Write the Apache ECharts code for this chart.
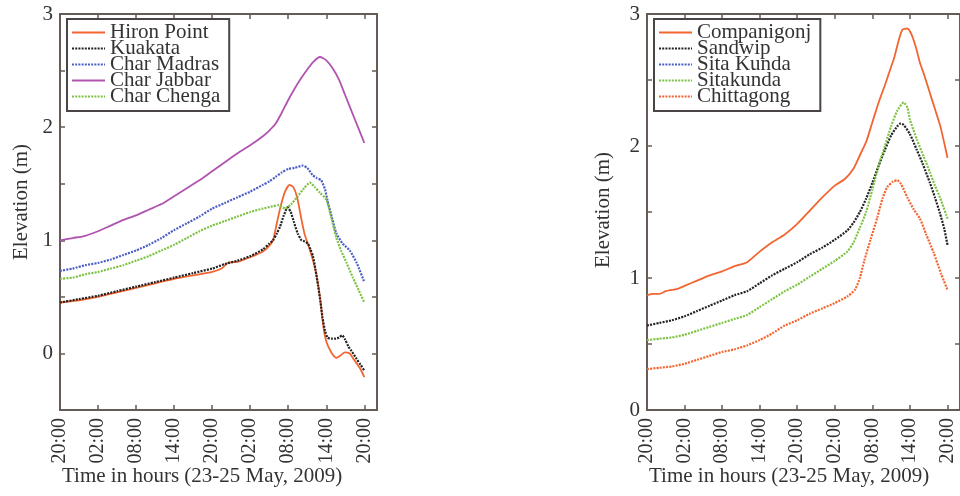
<!DOCTYPE html>
<html>
<head>
<meta charset="utf-8">
<title>Elevation</title>
<script src="https://cdn.jsdelivr.net/npm/echarts@6/dist/echarts.min.js"></script>
<style>
  html, body { margin: 0; padding: 0; background: #fff; }
  #main { width: 960px; height: 496px; }
</style>
</head>
<body>
<div id="main"></div>
<script>
// hours since 20:00 on 23 May, elevation in m
var tickLabels = ['20:00', '02:00', '08:00', '14:00', '20:00', '02:00', '08:00', '14:00', '20:00'];

var hironPoint = [[0,0.45],[3,0.47],[6,0.5],[9,0.54],[12,0.58],[15,0.62],[18,0.66],[21,0.69],[24,0.72],[25.5,0.75],[26.5,0.8],[28,0.81],[30,0.85],[32,0.9],[33,0.95],[33.6,1.0],[34.2,1.15],[34.8,1.3],[35.5,1.43],[36.2,1.49],[36.8,1.47],[37.4,1.38],[38.1,1.18],[38.6,1.05],[39.1,0.97],[39.6,0.88],[40.2,0.76],[40.6,0.65],[41,0.5],[41.4,0.3],[41.7,0.18],[42.1,0.09],[42.5,0.04],[43,-0.01],[43.6,-0.04],[44.2,-0.02],[44.9,0.01],[45.7,0],[46.3,-0.05],[46.8,-0.09],[47.4,-0.14],[48,-0.21]];
var kuakata = [[0,0.45],[3,0.48],[6,0.51],[9,0.55],[12,0.59],[15,0.63],[18,0.67],[21,0.71],[24,0.75],[26,0.79],[28,0.82],[30,0.86],[32,0.92],[33,0.97],[33.6,1.0],[34.2,1.06],[34.7,1.12],[35.3,1.22],[35.9,1.29],[36.4,1.25],[36.9,1.16],[37.5,1.06],[38.1,1.0],[38.6,0.99],[39.1,0.97],[39.5,0.92],[39.9,0.86],[40.3,0.74],[40.7,0.6],[41.1,0.45],[41.4,0.32],[41.8,0.2],[42.2,0.14],[42.8,0.13],[43.5,0.13],[44,0.14],[44.5,0.16],[45,0.12],[45.5,0.06],[46,0.02],[46.8,-0.05],[47.4,-0.1],[48,-0.15]];
var charMadras = [[0,0.73],[2,0.75],[4,0.78],[6,0.8],[8,0.83],[10,0.87],[12,0.91],[14,0.96],[16,1.02],[18,1.09],[20,1.15],[22,1.21],[24,1.28],[26,1.33],[28,1.38],[30,1.43],[32,1.49],[33,1.52],[34,1.56],[35,1.6],[36,1.63],[37,1.64],[38.3,1.66],[39,1.64],[39.8,1.58],[40.5,1.55],[41.2,1.53],[41.8,1.45],[42.2,1.35],[42.9,1.2],[43.6,1.06],[44.6,0.97],[45.7,0.91],[46.8,0.8],[48,0.63]];
var charJabbar = [[0,1.0],[2,1.02],[4,1.04],[6,1.08],[8,1.13],[10,1.18],[12,1.22],[14,1.27],[16,1.32],[18,1.39],[20,1.46],[22,1.53],[24,1.61],[26,1.69],[28,1.77],[30,1.84],[32,1.92],[33,1.97],[34,2.03],[35,2.13],[36,2.24],[37,2.34],[38,2.43],[39,2.51],[40,2.58],[41,2.62],[42,2.59],[43,2.52],[44,2.42],[45,2.28],[46,2.14],[47,2.0],[48,1.86]];
var charChenga = [[0,0.66],[2,0.67],[4,0.7],[6,0.72],[8,0.75],[10,0.78],[12,0.82],[14,0.86],[16,0.91],[18,0.96],[20,1.02],[22,1.08],[24,1.13],[26,1.17],[28,1.21],[30,1.25],[32,1.28],[33.5,1.3],[34.5,1.31],[35.5,1.28],[36.5,1.32],[37.5,1.39],[38.5,1.46],[39.4,1.51],[40.2,1.47],[41,1.42],[42,1.36],[42.8,1.2],[43.6,1.02],[44.4,0.9],[45.2,0.8],[46.2,0.67],[47.1,0.56],[48,0.45]];

var companigonj = [[0,0.87],[1,0.88],[2,0.88],[3,0.9],[4,0.91],[5,0.92],[6,0.94],[8,0.98],[10,1.02],[12,1.05],[14,1.09],[16,1.12],[18,1.2],[20,1.27],[22,1.33],[24,1.41],[26,1.51],[28,1.61],[30,1.7],[31.6,1.75],[33,1.83],[34,1.93],[35,2.03],[36,2.18],[37,2.33],[38,2.46],[39,2.6],[39.5,2.67],[40.2,2.8],[40.8,2.88],[41.6,2.89],[42.3,2.84],[43,2.74],[43.6,2.63],[44.2,2.55],[45.2,2.4],[46,2.28],[46.8,2.16],[47.5,2.02],[48,1.91]];
var sandwip = [[0,0.64],[2,0.66],[4,0.68],[6,0.71],[8,0.75],[10,0.79],[12,0.83],[14,0.87],[16,0.9],[18,0.96],[20,1.02],[22,1.07],[24,1.12],[26,1.18],[28,1.23],[30,1.29],[32,1.36],[33,1.42],[34,1.5],[35,1.6],[36,1.72],[37,1.85],[38,1.97],[39,2.08],[40,2.15],[40.5,2.17],[41,2.16],[42,2.09],[43.1,1.97],[44,1.87],[45.2,1.72],[46,1.61],[46.8,1.49],[47.5,1.37],[48,1.25]];
var sitaKunda = [];
var sitakunda = [[0,0.53],[2,0.54],[4,0.55],[6,0.57],[8,0.6],[10,0.63],[12,0.66],[14,0.69],[16,0.72],[18,0.78],[20,0.84],[22,0.9],[24,0.95],[26,1.01],[28,1.07],[30,1.13],[32,1.2],[33,1.27],[34,1.38],[35,1.5],[36,1.67],[37,1.85],[38,2.0],[39,2.15],[40,2.27],[41,2.33],[41.6,2.29],[42,2.2],[43.1,2.05],[44.2,1.92],[45.2,1.8],[46,1.7],[46.8,1.61],[48,1.45]];
var chittagong = [[0,0.31],[2,0.32],[4,0.33],[6,0.35],[8,0.38],[10,0.41],[12,0.44],[14,0.46],[16,0.49],[18,0.53],[20,0.58],[22,0.64],[24,0.68],[26,0.73],[28,0.77],[30,0.81],[32,0.86],[33.2,0.91],[34,1.0],[34.7,1.13],[35.7,1.29],[36.8,1.46],[37.6,1.6],[38.4,1.69],[39.3,1.73],[40,1.74],[40.6,1.71],[41.6,1.61],[42.6,1.52],[43.6,1.45],[44.6,1.33],[45.8,1.19],[47,1.03],[48,0.91]];

var FONT = 'Liberation Serif';
var AXIS_COLOR = '#665b57';
var TEXT_COLOR = '#333';

function xAxisBottom(gridIndex) {
    return {
        type: 'value', gridIndex: gridIndex, position: 'bottom',
        min: 0, max: 50, interval: 6,
        name: 'Time in hours (23-25 May, 2009)',
        nameLocation: 'start', nameGap: -2, nameMoveOverlap: false,
        nameTextStyle: {fontFamily: FONT, fontSize: 21, color: TEXT_COLOR, align: 'left', verticalAlign: 'top', padding: [56, 0, 0, 0]},
        axisLine: {onZero: false, lineStyle: {color: AXIS_COLOR, width: 2}},
        axisTick: {inside: true, length: 5, lineStyle: {color: AXIS_COLOR, width: 1.5}},
        splitLine: {show: false},
        axisLabel: {
            rotate: 90, margin: 8, fontFamily: FONT, fontSize: 20, color: TEXT_COLOR,
            showMaxLabel: false,
            formatter: function (v) {
                var i = Math.round(v / 6);
                return (v % 6 === 0 && i < tickLabels.length) ? tickLabels[i] : '';
            }
        }
    };
}

function xAxisTop(gridIndex) {
    return {
        type: 'value', gridIndex: gridIndex, position: 'top',
        min: 0, max: 50, interval: 6,
        axisLine: {onZero: false, lineStyle: {color: AXIS_COLOR, width: 2}},
        axisTick: {inside: true, length: 5, lineStyle: {color: AXIS_COLOR, width: 1.5}},
        axisLabel: {show: false},
        splitLine: {show: false}
    };
}

// shift moves the rotated name up (padding on the text's start side)
function yAxisLeft(gridIndex, min, gap, shift) {
    return {
        type: 'value', gridIndex: gridIndex, position: 'left',
        min: min, max: 3, interval: 0.5,
        name: 'Elevation (m)', nameLocation: 'middle', nameGap: gap, nameRotate: 90,
        nameTextStyle: {fontFamily: FONT, fontSize: 21, color: TEXT_COLOR, padding: [0, 0, 0, shift]},
        axisLine: {show: true, onZero: false, lineStyle: {color: AXIS_COLOR, width: 2}},
        axisTick: {show: true, inside: true, length: 5, lineStyle: {color: AXIS_COLOR, width: 1.5}},
        splitLine: {show: false},
        axisLabel: {
            margin: 7, fontFamily: FONT, fontSize: 21, color: TEXT_COLOR,
            formatter: function (v) {
                return Math.abs(v - Math.round(v)) < 1e-6 ? String(Math.round(v)) : '';
            }
        }
    };
}

function yAxisRight(gridIndex, min) {
    return {
        type: 'value', gridIndex: gridIndex, position: 'right',
        min: min, max: 3, interval: 0.5,
        axisLine: {show: true, onZero: false, lineStyle: {color: AXIS_COLOR, width: 2}},
        axisTick: {show: true, inside: true, length: 5, lineStyle: {color: AXIS_COLOR, width: 1.5}},
        axisLabel: {show: false},
        splitLine: {show: false}
    };
}

function line(name, data, color, dotted, xi, yi) {
    return {
        name: name, type: 'line', data: data,
        xAxisIndex: xi, yAxisIndex: yi,
        symbol: 'none', smooth: 0.2, clip: true,
        lineStyle: {color: color, width: dotted ? 2.2 : 1.8, type: dotted ? [2, 1.2] : 'solid'},
        itemStyle: {color: color}
    };
}

function legend(left, names) {
    return {
        orient: 'vertical', left: left, top: 19,
        data: names,
        itemWidth: 33, itemHeight: 6, itemGap: -5,
        padding: [3, 9, 4, 4],
        borderColor: '#4a4444', borderWidth: 2,
        backgroundColor: '#fff',
        itemStyle: {opacity: 0},
        textStyle: {fontFamily: FONT, fontSize: 21, color: TEXT_COLOR},
        selectedMode: false
    };
}

var myChart = echarts.init(document.getElementById('main'), null, {renderer: 'canvas'});

var option = {
    animation: false,
    backgroundColor: '#fff',
    grid: [
        {left: 60, top: 14, width: 317, height: 396},
        {left: 647, top: 14, width: 316, height: 396}
    ],
    legend: [
        legend(67, ['Hiron Point', 'Kuakata', 'Char Madras', 'Char Jabbar', 'Char Chenga']),
        legend(654, ['Companigonj', 'Sandwip', 'Sita Kunda', 'Sitakunda', 'Chittagong'])
    ],
    xAxis: [xAxisBottom(0), xAxisTop(0), xAxisBottom(1), xAxisTop(1)],
    yAxis: [yAxisLeft(0, -0.5, 28, 20), yAxisRight(0, -0.5), yAxisLeft(1, 0, 33, 4), yAxisRight(1, 0)],
    series: [
        line('Hiron Point', hironPoint, '#f26530', false, 0, 0),
        line('Kuakata', kuakata, '#222222', true, 0, 0),
        line('Char Madras', charMadras, '#4b5fc6', true, 0, 0),
        line('Char Jabbar', charJabbar, '#b054b0', false, 0, 0),
        line('Char Chenga', charChenga, '#7dc242', true, 0, 0),
        line('Companigonj', companigonj, '#f26530', false, 2, 2),
        line('Sandwip', sandwip, '#222222', true, 2, 2),
        line('Sita Kunda', sitaKunda, '#4b5fc6', true, 2, 2),
        line('Sitakunda', sitakunda, '#7dc242', true, 2, 2),
        line('Chittagong', chittagong, '#f26530', true, 2, 2)
    ]
};

myChart.setOption(option);
</script>
</body>
</html>
